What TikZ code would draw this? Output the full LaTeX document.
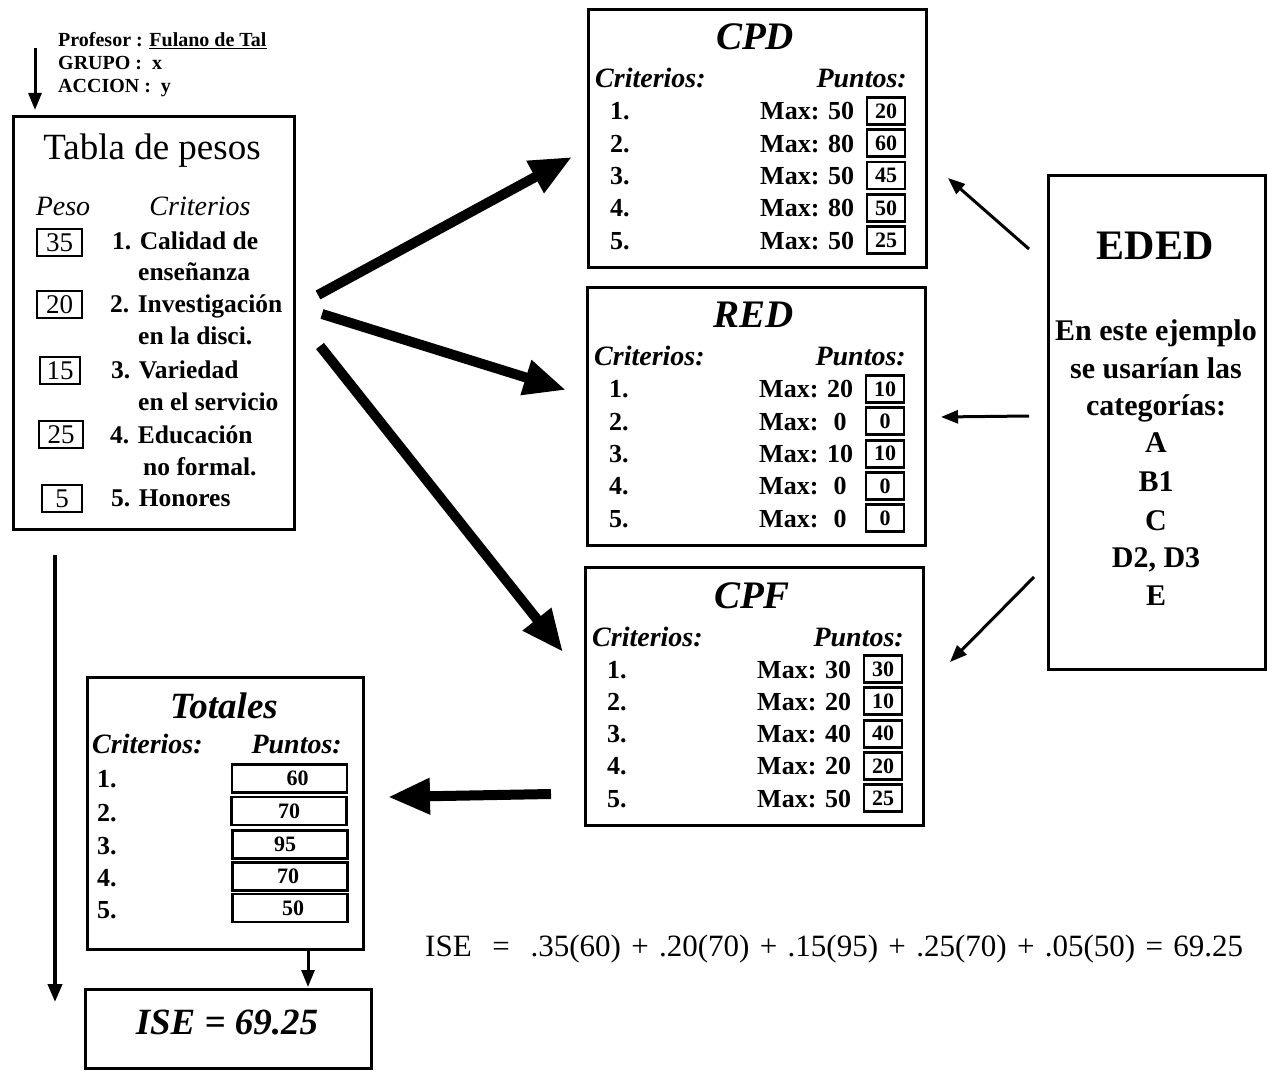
\documentclass[tikz,border=0pt]{standalone}
\usepackage{fontspec}
\setmainfont{Liberation Serif}
\usetikzlibrary{arrows.meta}
\newcommand\myfs[1]{\fontsize{#1}{#1}\selectfont}
\newcommand\mypanel[5]{%
 \begin{scope}[shift={(#2,#3)}]
  \node[box,anchor=north west,minimum width=338pt,minimum height=258pt] (#1) at (0,0) {};
  \node[anchor=base,font=\bfseries\itshape\myfs{39},inner sep=0pt] (#1-t) at (168,42) {#4};
  \node[anchor=base west,font=\bfseries\itshape\myfs{28},inner sep=0pt] (#1-c) at (8,80) {Criterios:};
  \node[anchor=base east,font=\bfseries\itshape\myfs{28},inner sep=0pt] (#1-p) at (320,80) {Puntos:};
  \foreach \m/\v [count=\i] in {#5} {
    \pgfmathsetmacro\yy{112+32.3*(\i-1)}
    \node[rowtxt] (#1-n\i) at (23,\yy) {\i.};
    \node[rowtxt] (#1-m\i) at (173,\yy) {Max: \makebox[1em][c]{\m}};
    \node[numbox] (#1-b\i) at (299,\yy-9) {\v};
  }
 \end{scope}}
\begin{document}
\begin{tikzpicture}[x=1pt,y=-1pt,
  box/.style={draw,line width=3pt,inner sep=0pt},
  numbox/.style={draw,line width=2.8pt,inner sep=0pt,minimum width=38pt,minimum height=27pt,font=\bfseries\myfs{22}},
  wbox/.style={draw,line width=2.8pt,inner sep=0pt,minimum height=27pt,font=\myfs{27}},
  tbox/.style={draw,line width=2.8pt,inner sep=0pt,minimum width=115pt,minimum height=28pt,font=\bfseries\myfs{22}},
  rowtxt/.style={anchor=base west,font=\bfseries\myfs{26},inner sep=0pt},
  crit/.style={anchor=base west,font=\bfseries\myfs{25.5},inner sep=0pt},
  hdr/.style={anchor=base west,font=\bfseries\myfs{20},inner sep=0pt},
  eded/.style={anchor=base,font=\bfseries\myfs{30},inner sep=0pt},
  bigarrow/.style={line width=10pt,-{Triangle[length=42pt,width=34pt]}},
  thinarrow/.style={line width=3pt,-{Triangle[length=17pt,width=13pt]}}
]
\useasboundingbox (0,0) rectangle (1267,1075);

% header
\node[hdr] (prof) at (58,47) {Profesor : \underline{Fulano de Tal}};
\node[hdr] (grupo) at (58,70) {GRUPO : \ x};
\node[hdr] (accion) at (58,93) {ACCION : \ y};
\coordinate (h1) at (35,48);
\coordinate (h2) at (35,110);
\draw[thinarrow] (h1) -- (h2);

% Tabla de pesos
\node[box,anchor=north west,minimum width=281pt,minimum height=413pt] (tabla) at (12,115) {};
\node[anchor=base,font=\myfs{37},inner sep=0pt] (ttl) at (152,160) {Tabla de pesos};
\node[anchor=base,font=\itshape\myfs{28},inner sep=0pt] (peso) at (63,216) {Peso};
\node[anchor=base,font=\itshape\myfs{28},inner sep=0pt] (crits) at (200,216) {Criterios};
\node[wbox,minimum width=45pt] (w1) at (59.5,242.5) {35};
\node[wbox,minimum width=45pt] (w2) at (59.5,304.5) {20};
\node[wbox,minimum width=40pt] (w3) at (60,370.5) {15};
\node[wbox,minimum width=44pt] (w4) at (61,434.5) {25};
\node[wbox,minimum width=40pt] (w5) at (62,498.5) {5};
\node[crit] (c1) at (112,250) {1. Calidad de};
\node[crit] (c1b) at (138,281) {enseñanza};
\node[crit] (c2) at (110,313) {2. Investigación};
\node[crit] (c2b) at (138,345) {en la disci.};
\node[crit] (c3) at (111,378) {3. Variedad};
\node[crit] (c3b) at (138,410) {en el servicio};
\node[crit] (c4) at (110,443) {4. Educación};
\node[crit] (c4b) at (143,475) {no formal.};
\node[crit] (c5) at (111,506) {5. Honores};

% panels
\mypanel{cpd}{587}{8}{CPD}{50/20,80/60,50/45,80/50,50/25}
\mypanel{red}{586}{286}{RED}{20/10,0/0,10/10,0/0,0/0}
\mypanel{cpf}{584}{566}{CPF}{30/30,20/10,40/40,20/20,50/25}

% EDED
\node[box,anchor=north west,minimum width=217pt,minimum height=494pt] (ededbox) at (1047,174) {};
\node[anchor=base,font=\bfseries\myfs{42},inner sep=0pt] (ededt) at (1155,260) {EDED};
\node[eded] (e1) at (1156,341) {En este ejemplo};
\node[eded] (e2) at (1156,378) {se usarían las};
\node[eded] (e3) at (1156,415) {categorías:};
\node[eded] (e4) at (1156,452) {A};
\node[eded] (e5) at (1156,491) {B1};
\node[eded] (e6) at (1156,530) {C};
\node[eded] (e7) at (1156,567) {D2, D3};
\node[eded] (e8) at (1156,605) {E};

% Totales
\node[box,anchor=north west,minimum width=276pt,minimum height=272pt] (tot) at (86,676) {};
\node[anchor=base,font=\bfseries\itshape\myfs{37},inner sep=0pt] (tott) at (224,718) {Totales};
\node[anchor=base west,font=\bfseries\itshape\myfs{28},inner sep=0pt] (totc) at (92,753) {Criterios:};
\node[anchor=base east,font=\bfseries\itshape\myfs{28},inner sep=0pt] (totp) at (342,753) {Puntos:};
\node[rowtxt] (tn1) at (97,787) {1.};
\node[rowtxt] (tn2) at (97,821) {2.};
\node[rowtxt] (tn3) at (97,854) {3.};
\node[rowtxt] (tn4) at (97,886) {4.};
\node[rowtxt] (tn5) at (97,918) {5.};
\node[tbox] (tb1) at (289.5,778.5) {\hspace*{16pt}60};
\node[tbox] (tb2) at (289,811) {70};
\node[tbox] (tb3) at (290,844.5) {\hspace*{-10pt}95};
\node[tbox] (tb4) at (290,876.5) {\hspace*{-4pt}70};
\node[tbox] (tb5) at (290,908) {\hspace*{6pt}50};

% ISE box
\node[box,anchor=north west,minimum width=286pt,minimum height=79pt] (isebox) at (84,988) {};
\node[anchor=base,font=\bfseries\itshape\myfs{37},inner sep=0pt] (iset) at (227,1034) {ISE = 69.25};

% formula
\node[anchor=base west,font=\myfs{31},inner sep=0pt] (form) at (425,956)
  {\makebox[818pt][s]{ISE \ = \ .35(60) + .20(70) + .15(95) + .25(70) + .05(50) = 69.25}};

% thick arrows
\coordinate (a1s) at (318,295); \coordinate (a1e) at (572,157);
\coordinate (a2s) at (322,314); \coordinate (a2e) at (566,390);
\coordinate (a3s) at (320,346); \coordinate (a3e) at (563,652);
\coordinate (a4s) at (551,794); \coordinate (a4e) at (388,797);
\draw[bigarrow] (a1s) -- (a1e);
\draw[bigarrow] (a2s) -- (a2e);
\draw[bigarrow] (a3s) -- (a3e);
\draw[bigarrow] (a4s) -- (a4e);

% thin arrows from EDED
\coordinate (e1s) at (1029,249); \coordinate (e1e) at (948,178);
\coordinate (e2s) at (1029,416); \coordinate (e2e) at (941,417);
\coordinate (e3s) at (1034,577); \coordinate (e3e) at (950,662);
\draw[thinarrow] (e1s) -- (e1e);
\draw[thinarrow] (e2s) -- (e2e);
\draw[thinarrow] (e3s) -- (e3e);

% vertical arrows
\coordinate (l1) at (55,555); \coordinate (l2) at (55,1002);
\draw[line width=4pt,-{Triangle[length=18pt,width=14pt]}] (l1) -- (l2);
\coordinate (ti1) at (308,950); \coordinate (ti2) at (308,987);
\draw[thinarrow] (ti1) -- (ti2);
\end{tikzpicture}
\end{document}
